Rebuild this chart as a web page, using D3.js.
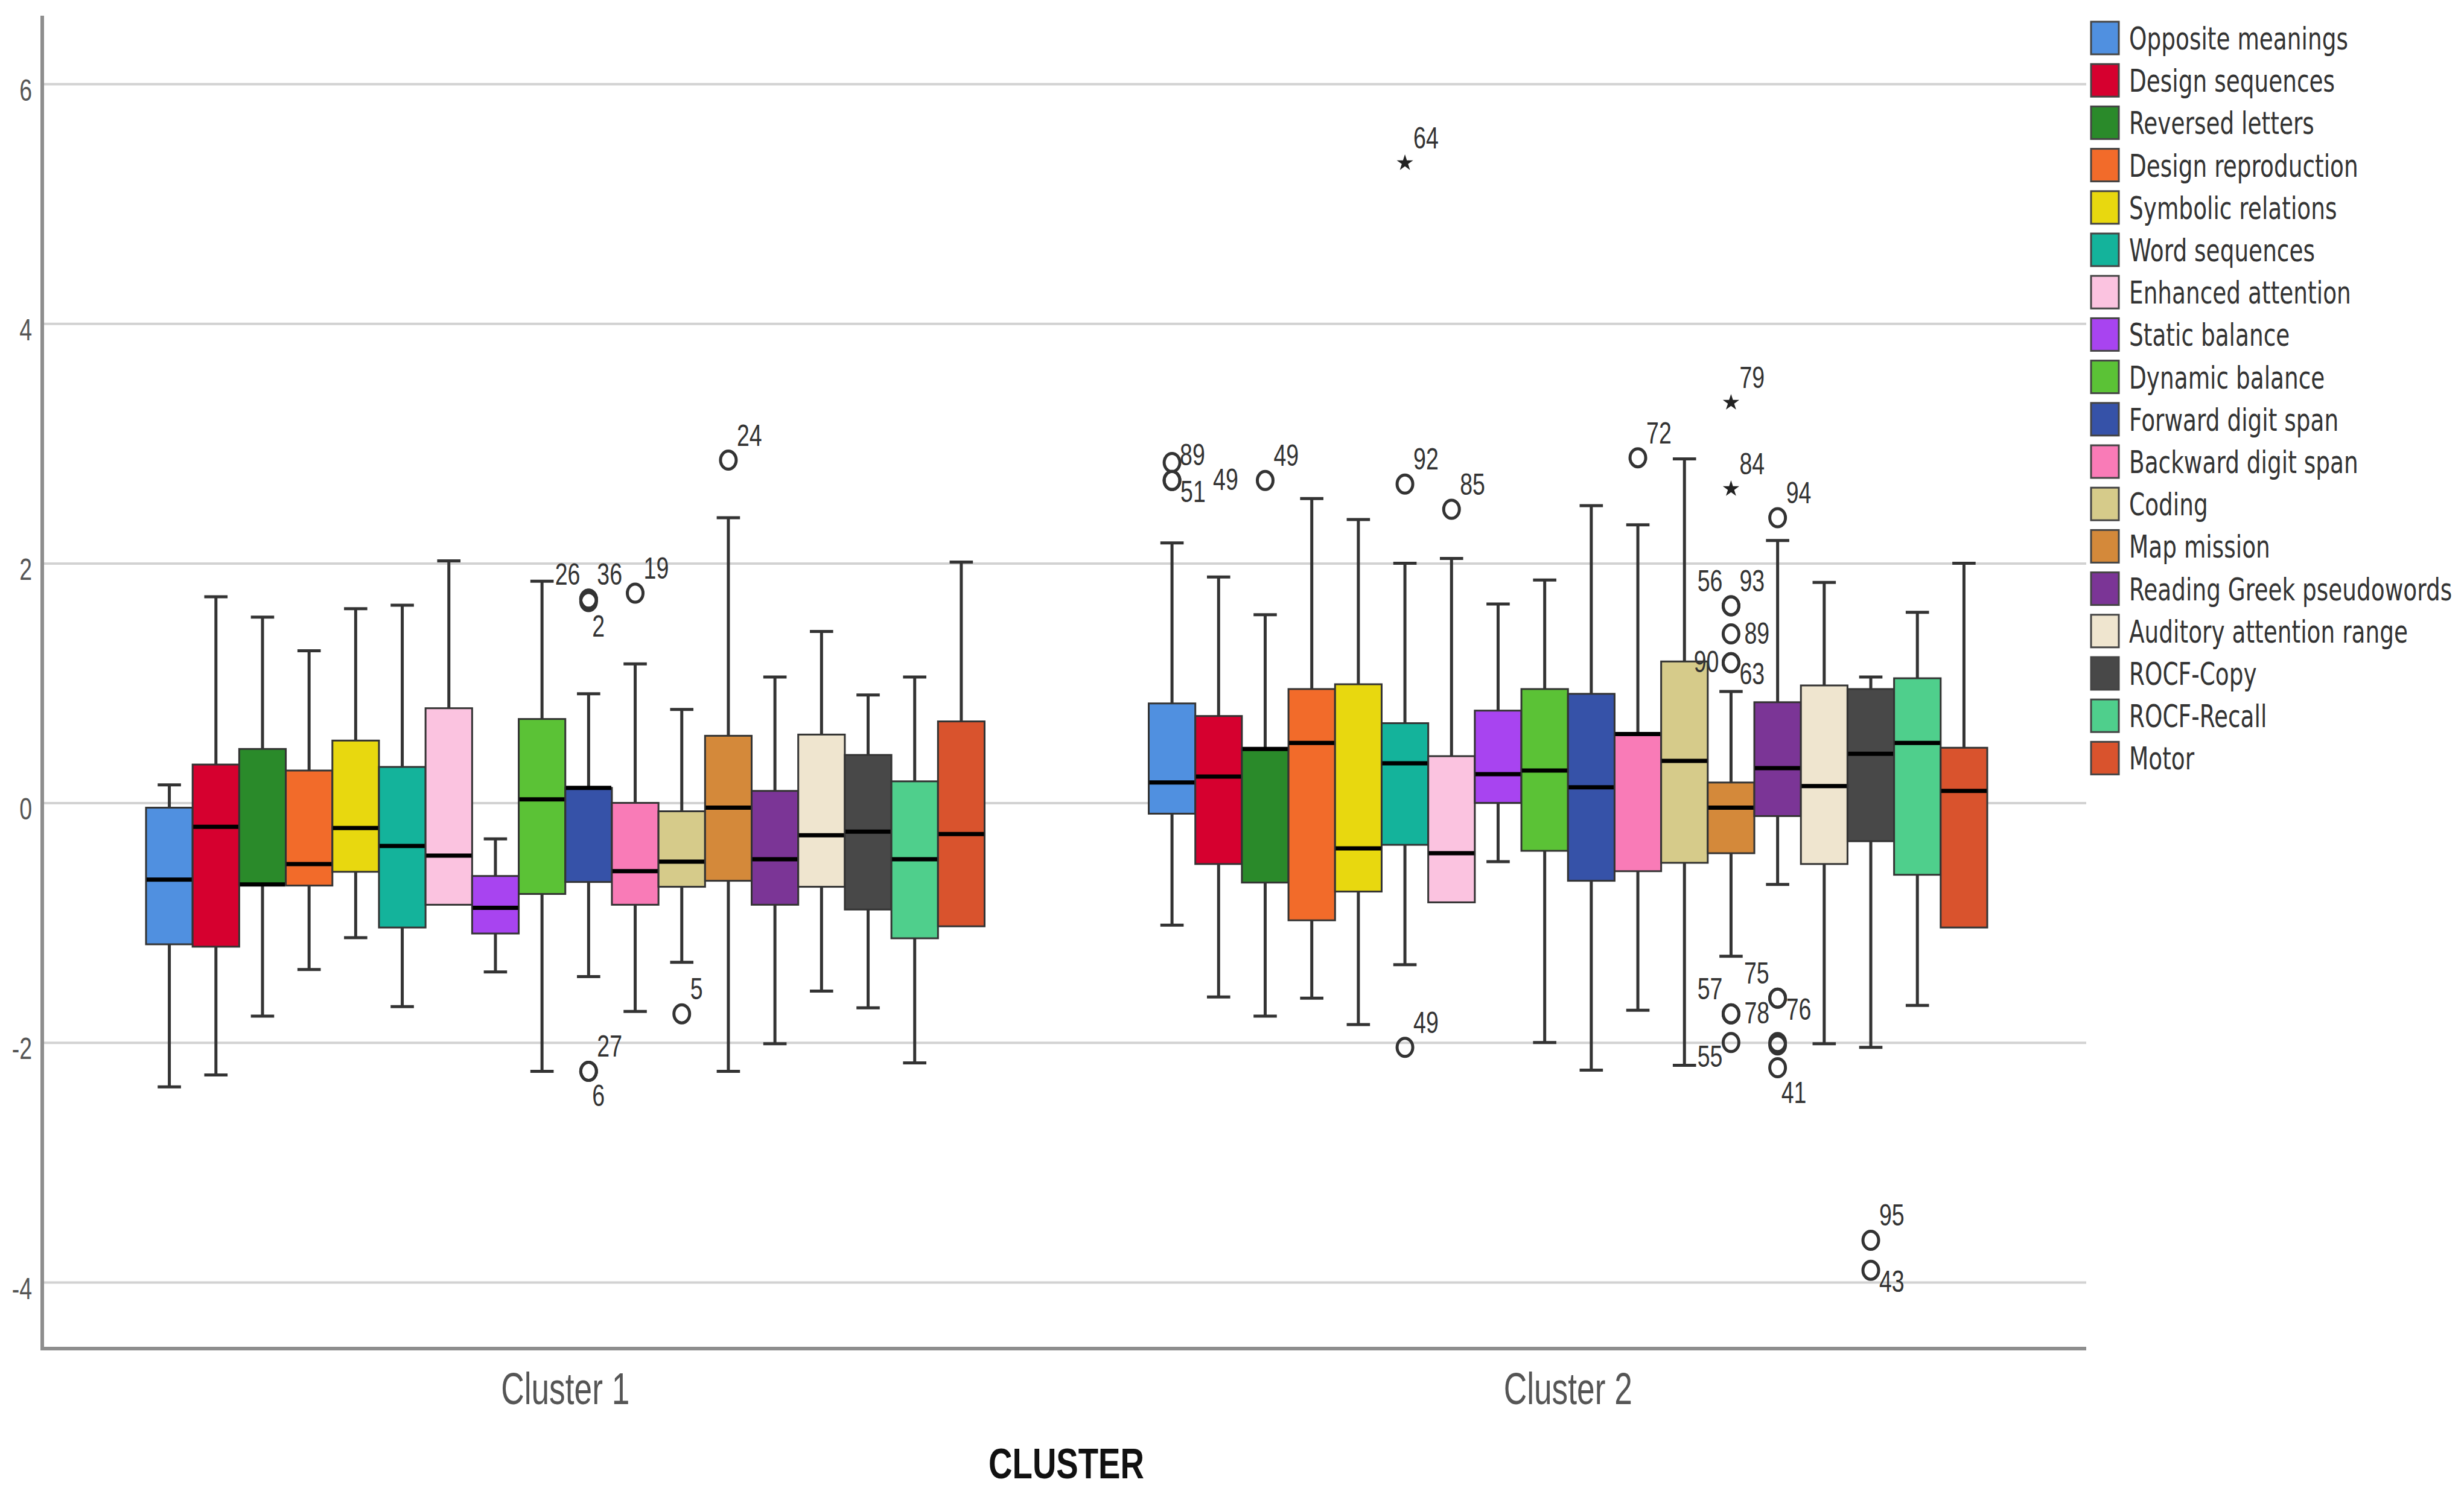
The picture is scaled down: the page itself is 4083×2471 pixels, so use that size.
<!DOCTYPE html>
<html><head><meta charset="utf-8">
<script src="https://cdn.jsdelivr.net/npm/d3@7"></script>
<style>html,body{margin:0;padding:0;background:#fff}</style>
</head><body>
<svg id="chart" width="4083" height="2471"></svg>
<script>
// ---------- DATA ----------
const clusters = ["Cluster 1", "Cluster 2"];
const series = ["Opposite meanings","Design sequences","Reversed letters","Design reproduction","Symbolic relations","Word sequences","Enhanced attention","Static balance","Dynamic balance","Forward digit span","Backward digit span","Coding","Map mission","Reading Greek pseudowords","Auditory attention range","ROCF-Copy","ROCF-Recall","Motor"];
const colors = ["#5090e0","#d6002f","#2a8a2a","#f26b2a","#e8d80f","#14b39b","#fbc3e0","#a844f0","#5bc236","#3652a8","#f97bb7","#d6cb8a","#d4893a","#7b3596","#efe5cf","#484848","#4fcf8c","#d9532d"];
const yTicks = [-4, -2, 0, 2, 4, 6];

const c1High   = [0.15, 1.72, 1.55, 1.27, 1.62, 1.65, 2.02, -0.30, 1.85, 0.91, 1.16, 0.78, 2.38, 1.05, 1.43, 0.90, 1.05, 2.01];
const c1Q3     = [-0.04, 0.32, 0.45, 0.27, 0.52, 0.30, 0.79, -0.61, 0.70, 0.125, 0.00, -0.07, 0.56, 0.10, 0.57, 0.40, 0.18, 0.68];
const c1Median = [-0.64, -0.20, -0.68, -0.51, -0.21, -0.36, -0.44, -0.875, 0.03, 0.125, -0.57, -0.49, -0.04, -0.47, -0.27, -0.24, -0.47, -0.26];
const c1Q1     = [-1.18, -1.20, -0.68, -0.69, -0.575, -1.04, -0.85, -1.09, -0.76, -0.66, -0.85, -0.70, -0.65, -0.85, -0.70, -0.89, -1.13, -1.03];
const c1Low    = [-2.37, -2.27, -1.78, -1.39, -1.125, -1.70, -0.85, -1.41, -2.24, -1.45, -1.74, -1.33, -2.24, -2.01, -1.57, -1.71, -2.17, -1.03];

const c2High   = [2.17, 1.885, 1.57, 2.54, 2.365, 2.00, 2.04, 1.66, 1.86, 2.48, 2.32, 2.87, 0.93, 2.19, 1.84, 1.05, 1.59, 2.00];
const c2Q3     = [0.83, 0.725, 0.45, 0.95, 0.99, 0.665, 0.39, 0.77, 0.95, 0.91, 0.575, 1.18, 0.17, 0.84, 0.98, 0.95, 1.04, 0.46];
const c2Median = [0.17, 0.22, 0.45, 0.50, -0.38, 0.33, -0.42, 0.24, 0.27, 0.13, 0.575, 0.35, -0.04, 0.29, 0.14, 0.41, 0.50, 0.10];
const c2Q1     = [-0.09, -0.51, -0.665, -0.98, -0.74, -0.35, -0.83, 0.00, -0.40, -0.65, -0.57, -0.50, -0.42, -0.11, -0.51, -0.32, -0.60, -1.04];
const c2Low    = [-1.02, -1.62, -1.78, -1.63, -1.85, -1.35, -0.83, -0.49, -2.00, -2.23, -1.73, -2.19, -1.28, -0.68, -2.01, -2.04, -1.69, -1.04];

// outliers: [cluster, series index, value, case label, marker, label side]
const outliers = [
  ["Cluster 1", 9, 1.70, "26", "circle", "nw"],
  ["Cluster 1", 9, 1.70, "36", "circle", "ne"],
  ["Cluster 1", 9, 1.68, "2", "circle", "s"],
  ["Cluster 1", 9, -2.24, "27", "circle", "ne"],
  ["Cluster 1", 9, -2.24, "6", "circle", "s"],
  ["Cluster 1", 10, 1.75, "19", "circle", "ne"],
  ["Cluster 1", 11, -1.76, "5", "circle", "ne"],
  ["Cluster 1", 12, 2.86, "24", "circle", "ne"],
  ["Cluster 2", 0, 2.84, "89", "circle", "ne2"],
  ["Cluster 2", 0, 2.69, "51", "circle", "se"],
  ["Cluster 2", 0, 2.69, "49", "circle", "e2"],
  ["Cluster 2", 2, 2.69, "49", "circle", "ne"],
  ["Cluster 2", 5, 5.34, "64", "star", "ne"],
  ["Cluster 2", 5, 2.66, "92", "circle", "ne"],
  ["Cluster 2", 5, -2.04, "49", "circle", "ne"],
  ["Cluster 2", 6, 2.45, "85", "circle", "ne"],
  ["Cluster 2", 10, 2.88, "72", "circle", "ne"],
  ["Cluster 2", 12, 3.34, "79", "star", "ne"],
  ["Cluster 2", 12, 2.62, "84", "star", "ne"],
  ["Cluster 2", 12, 1.645, "56", "circle", "nw"],
  ["Cluster 2", 12, 1.645, "93", "circle", "ne"],
  ["Cluster 2", 12, 1.41, "89", "circle", "e"],
  ["Cluster 2", 12, 1.17, "90", "circle", "w"],
  ["Cluster 2", 12, 1.17, "63", "circle", "se"],
  ["Cluster 2", 12, -1.76, "57", "circle", "nw"],
  ["Cluster 2", 12, -1.76, "78", "circle", "e"],
  ["Cluster 2", 12, -2.00, "55", "circle", "sw"],
  ["Cluster 2", 13, 2.38, "94", "circle", "ne"],
  ["Cluster 2", 13, -1.63, "75", "circle", "nw"],
  ["Cluster 2", 13, -1.63, "76", "circle", "se"],
  ["Cluster 2", 13, -2.00, "", "circle", "ne"],
  ["Cluster 2", 13, -2.02, "", "circle", "ne"],
  ["Cluster 2", 13, -2.21, "41", "circle", "s"],
  ["Cluster 2", 15, -3.65, "95", "circle", "ne"],
  ["Cluster 2", 15, -3.90, "43", "circle", "se"]
];

// ---------- LAYOUT ----------
const W = 4083, H = 2471;
const plotLeft = 70, plotRight = 3457, plotTop = 26, plotBottom = 2235;
const svg = d3.select("#chart");
svg.append("rect").attr("width", W).attr("height", H).attr("fill", "#fff");

const y = d3.scaleLinear().domain([-4, 6]).range([2125, 139]);
const x = d3.scaleBand().domain(clusters).range([106, 3429]);
const xs = d3.scaleBand().domain(series).range([136, x.bandwidth() - 136]);
const bw = xs.bandwidth();
const sans = "'Liberation Sans', Arial, sans-serif";

// gridlines
svg.append("g")
  .attr("transform", `translate(${plotLeft},0)`)
  .call(d3.axisRight(y).tickValues(yTicks).tickSize(plotRight - plotLeft).tickFormat(""))
  .call(g => g.select(".domain").remove())
  .call(g => g.selectAll("line").attr("stroke", "#d2d2d2").attr("stroke-width", 4));

// y tick labels
svg.append("g")
  .attr("transform", `translate(${plotLeft},0)`)
  .call(d3.axisLeft(y).tickValues(yTicks).tickSize(0).tickFormat(d => String(d)))
  .call(g => g.select(".domain").remove())
  .call(g => g.selectAll("text")
    .attr("x", 0).attr("dy", null)
    .attr("font-family", sans).attr("font-size", 50)
    .attr("fill", "#555").attr("text-anchor", "end")
    .attr("transform", "translate(-17,27) scale(0.75,1)"));

// axis lines
svg.append("line").attr("x1", plotLeft).attr("x2", plotLeft).attr("y1", plotTop).attr("y2", plotBottom)
  .attr("stroke", "#8e8e8e").attr("stroke-width", 6);
svg.append("line").attr("x1", plotLeft - 3).attr("x2", plotRight).attr("y1", plotBottom).attr("y2", plotBottom)
  .attr("stroke", "#8e8e8e").attr("stroke-width", 6);

// x axis labels
svg.append("g")
  .attr("transform", `translate(0,${plotBottom})`)
  .call(d3.axisBottom(x).tickSize(0))
  .call(g => g.select(".domain").remove())
  .call(g => g.selectAll("text")
    .attr("y", 0).attr("dy", null)
    .attr("font-family", sans).attr("font-size", 74)
    .attr("fill", "#555").attr("text-anchor", "middle")
    .attr("transform", "translate(0,92) scale(0.72,1)"));

svg.append("text")
  .attr("transform", "translate(1767,2450) scale(0.78,1)")
  .attr("text-anchor", "middle").attr("font-family", sans).attr("font-weight", "bold")
  .attr("font-size", 70).attr("fill", "#111").text("CLUSTER");

// ---------- BOXES ----------
const highs = [c1High, c2High], q3s = [c1Q3, c2Q3], meds = [c1Median, c2Median], q1s = [c1Q1, c2Q1], lows = [c1Low, c2Low];
const boxData = clusters.flatMap((c, ci) => series.map((s, i) => ({
  cluster: c, series: s, i, high: highs[ci][i], q3: q3s[ci][i], med: meds[ci][i], q1: q1s[ci][i], low: lows[ci][i]
})));

const boxes = svg.append("g").selectAll("g.box").data(boxData).join("g")
  .attr("class", "box")
  .attr("transform", d => `translate(${x(d.cluster) + xs(d.series)},0)`);

const wc = "#333", ws = 5;
boxes.filter(d => d.high > d.q3).append("line")
  .attr("x1", bw / 2).attr("x2", bw / 2).attr("y1", d => y(d.high)).attr("y2", d => y(d.q3))
  .attr("stroke", wc).attr("stroke-width", ws);
boxes.filter(d => d.high > d.q3).append("line")
  .attr("x1", bw / 2 - bw / 4).attr("x2", bw / 2 + bw / 4).attr("y1", d => y(d.high)).attr("y2", d => y(d.high))
  .attr("stroke", wc).attr("stroke-width", ws);
boxes.filter(d => d.low < d.q1).append("line")
  .attr("x1", bw / 2).attr("x2", bw / 2).attr("y1", d => y(d.q1)).attr("y2", d => y(d.low))
  .attr("stroke", wc).attr("stroke-width", ws);
boxes.filter(d => d.low < d.q1).append("line")
  .attr("x1", bw / 2 - bw / 4).attr("x2", bw / 2 + bw / 4).attr("y1", d => y(d.low)).attr("y2", d => y(d.low))
  .attr("stroke", wc).attr("stroke-width", ws);

boxes.append("rect")
  .attr("x", 0).attr("width", bw)
  .attr("y", d => y(d.q3)).attr("height", d => y(d.q1) - y(d.q3))
  .attr("fill", d => colors[d.i]).attr("stroke", "#333").attr("stroke-width", 3);
boxes.append("line")
  .attr("x1", 1).attr("x2", bw - 1).attr("y1", d => y(d.med)).attr("y2", d => y(d.med))
  .attr("stroke", "#000").attr("stroke-width", 7);

// ---------- OUTLIERS ----------
const labelOffsets = {
  ne: [14, -24, "start"], ne2: [13, 4, "start"], se: [14, 36, "start"], nw: [-14, -24, "end"],
  sw: [-14, 40, "end"], e: [22, 16, "start"], w: [-20, 16, "end"], s: [6, 58, "start"], e2: [68, 16, "start"]
};
const og = svg.append("g");
outliers.forEach(([c, i, v, lab, shape, pos]) => {
  const cx = x(c) + xs(series[i]) + bw / 2, cy = y(v);
  if (shape === "star") {
    og.append("path").attr("d", d3.symbol(d3.symbolStar, 230)())
      .attr("transform", `translate(${cx},${cy})`).attr("fill", "#222");
  } else {
    og.append("ellipse").attr("cx", cx).attr("cy", cy).attr("rx", 13).attr("ry", 15)
      .attr("fill", "none").attr("stroke", "#333").attr("stroke-width", 5);
  }
  if (lab) {
    const [dx, dy, anchor] = labelOffsets[pos];
    og.append("text").attr("transform", `translate(${cx + dx},${cy + dy}) scale(0.75,1)`)
      .attr("text-anchor", anchor).attr("font-family", sans).attr("font-size", 50)
      .attr("fill", "#333").text(lab);
  }
});

// ---------- LEGEND ----------
const lg = svg.append("g").selectAll("g").data(series).join("g")
  .attr("transform", (d, i) => `translate(3465,${63 + 70.2 * i})`);
lg.append("rect").attr("x", 0).attr("y", -27).attr("width", 46).attr("height", 54)
  .attr("fill", (d, i) => colors[i]).attr("stroke", "#444").attr("stroke-width", 3);
lg.append("text").attr("transform", "translate(63,19) scale(0.72,1)")
  .attr("font-family", "'DejaVu Sans', Verdana, sans-serif").attr("font-size", 52)
  .attr("fill", "#333").text(d => d);
</script>
</body></html>
